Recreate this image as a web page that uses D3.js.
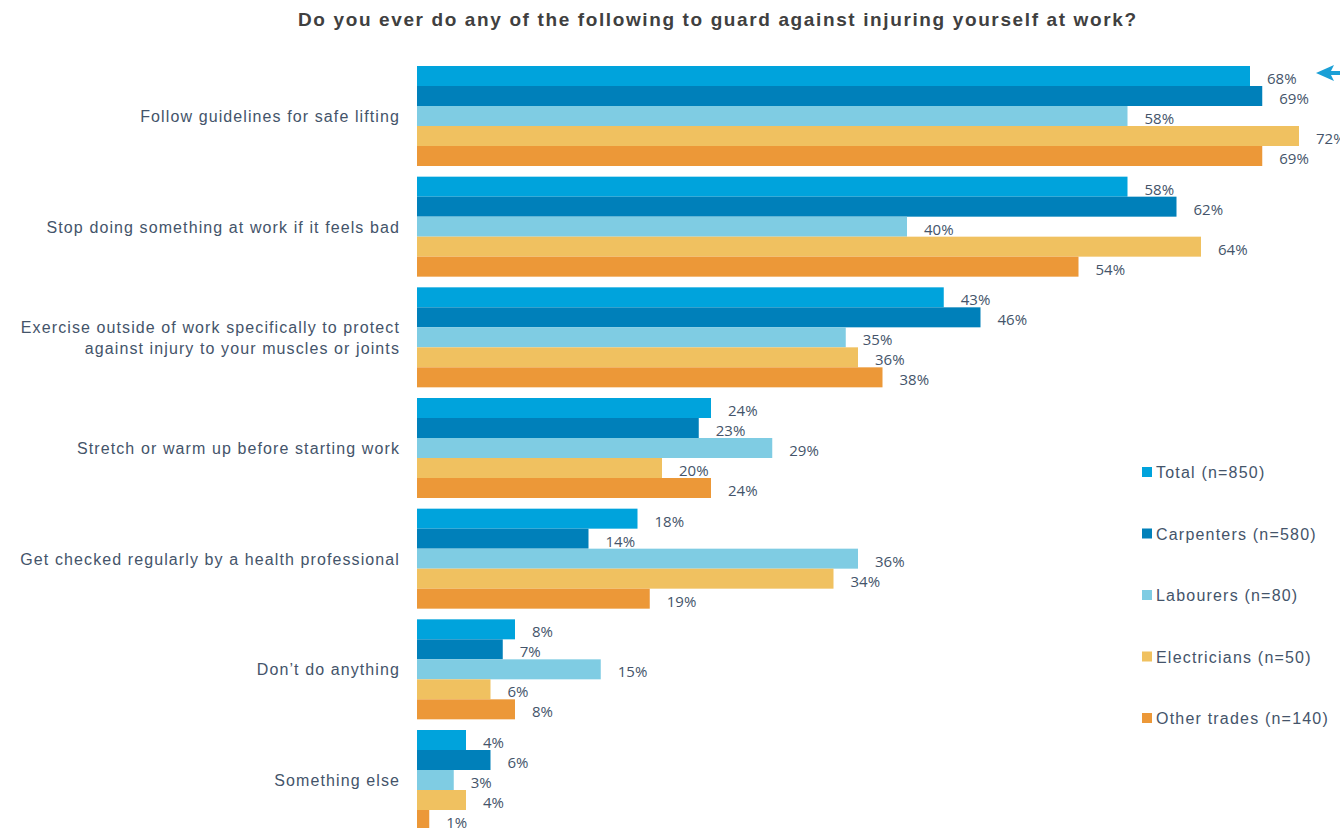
<!DOCTYPE html>
<html>
<head>
<meta charset="utf-8">
<script src="https://cdn.jsdelivr.net/npm/d3@7"></script>
<style>
  html, body { margin: 0; padding: 0; background: #fff; }
  svg { display: block; }
</style>
</head>
<body>
<svg id="chart" width="1340" height="828"></svg>
<script>
// Survey answers (rows) and respondent groups (series)
const categories = [
  "Follow guidelines for safe lifting",
  "Stop doing something at work if it feels bad",
  "Exercise outside of work specifically to protect|against injury to your muscles or joints",
  "Stretch or warm up before starting work",
  "Get checked regularly by a health professional",
  "Don\u2019t do anything",
  "Something else"
];
const seriesNames = [
  "Total (n=850)",
  "Carpenters (n=580)",
  "Labourers (n=80)",
  "Electricians (n=50)",
  "Other trades (n=140)"
];
const total       = [68, 58, 43, 24, 18, 8, 4];
const carpenters  = [69, 62, 46, 23, 14, 7, 6];
const labourers   = [58, 40, 35, 29, 36, 15, 3];
const electricians= [72, 64, 36, 20, 34, 6, 4];
const otherTrades = [69, 54, 38, 24, 19, 8, 1];
const seriesValues = [total, carpenters, labourers, electricians, otherTrades];
const colors = ["#00A3DC", "#0080BA", "#7FCCE3", "#F0C160", "#EC9838"];

const svg = d3.select("#chart");
const textColor = "#44546A";

// Title
svg.append("text")
  .attr("x", 298).attr("y", 26)
  .attr("font-family", "Liberation Sans, Arial, sans-serif")
  .attr("font-weight", "bold")
  .attr("font-size", 19)
  .attr("textLength", 838)
  .attr("lengthAdjust", "spacing")
  .attr("fill", "#404040")
  .text("Do you ever do any of the following to guard against injuring yourself at work?");

// Scales
const x = d3.scaleLinear().domain([0, 100]).range([417, 1642]);
const y = d3.scaleBand().domain(d3.range(categories.length))
  .range([66, 830]).paddingInner(0.0964).paddingOuter(0);
const yInner = d3.scaleBand().domain(d3.range(seriesNames.length))
  .range([0, y.bandwidth()]);

const rows = categories.map((c, i) => ({
  label: c,
  values: seriesValues.map((s, k) => ({ k, v: s[i] }))
}));

const groups = svg.append("g").selectAll("g").data(rows).join("g")
  .attr("transform", (d, i) => `translate(0,${y(i)})`);

groups.selectAll("rect").data(d => d.values).join("rect")
  .attr("x", x(0))
  .attr("y", d => yInner(d.k))
  .attr("width", d => x(d.v) - x(0))
  .attr("height", yInner.bandwidth())
  .attr("fill", d => colors[d.k]);

groups.selectAll("text.val").data(d => d.values).join("text")
  .attr("class", "val")
  .attr("x", d => x(d.v) + 17)
  .attr("y", d => yInner(d.k) + yInner.bandwidth() / 2 + 8)
  .attr("font-family", "Open Sans, Lato, sans-serif")
  .attr("font-size", 15)
  .attr("fill", textColor)
  .text(d => d.v + "%");

// Category labels, right aligned against the bars
groups.each(function(d) {
  const lines = d.label.split("|");
  const g = d3.select(this);
  const lh = 21;
  const start = y.bandwidth() / 2 - (lines.length - 1) * lh / 2 + 6;
  lines.forEach((ln, j) => {
    g.append("text")
      .attr("x", 400)
      .attr("y", start + j * lh)
      .attr("text-anchor", "end")
      .attr("font-family", "Liberation Sans, Arial, sans-serif")
      .attr("font-size", 16)
      .attr("letter-spacing", 1.1)
      .attr("fill", textColor)
      .text(ln);
  });
});

// Legend
const legend = svg.append("g").selectAll("g").data(seriesNames).join("g")
  .attr("transform", (d, i) => `translate(1142,${472 + i * 61.5})`);
legend.append("rect")
  .attr("x", 0).attr("y", -5).attr("width", 10).attr("height", 10)
  .attr("fill", (d, i) => colors[i]);
legend.append("text")
  .attr("x", 14).attr("y", 6)
  .attr("font-family", "Liberation Sans, Arial, sans-serif")
  .attr("font-size", 16)
  .attr("letter-spacing", 1.2)
  .attr("fill", textColor)
  .text(d => d);

// Highlight arrow beside the top bar
const ay = y(0) + yInner(0) + yInner.bandwidth() / 2 - 3;
svg.append("line")
  .attr("x1", 1328).attr("x2", 1340).attr("y1", ay).attr("y2", ay)
  .attr("stroke", "#1A9FD6").attr("stroke-width", 4);
svg.append("path")
  .attr("d", `M1316,${ay} L1334,${ay - 8} L1330,${ay} L1334,${ay + 8} Z`)
  .attr("fill", "#1A9FD6");
</script>
</body>
</html>
